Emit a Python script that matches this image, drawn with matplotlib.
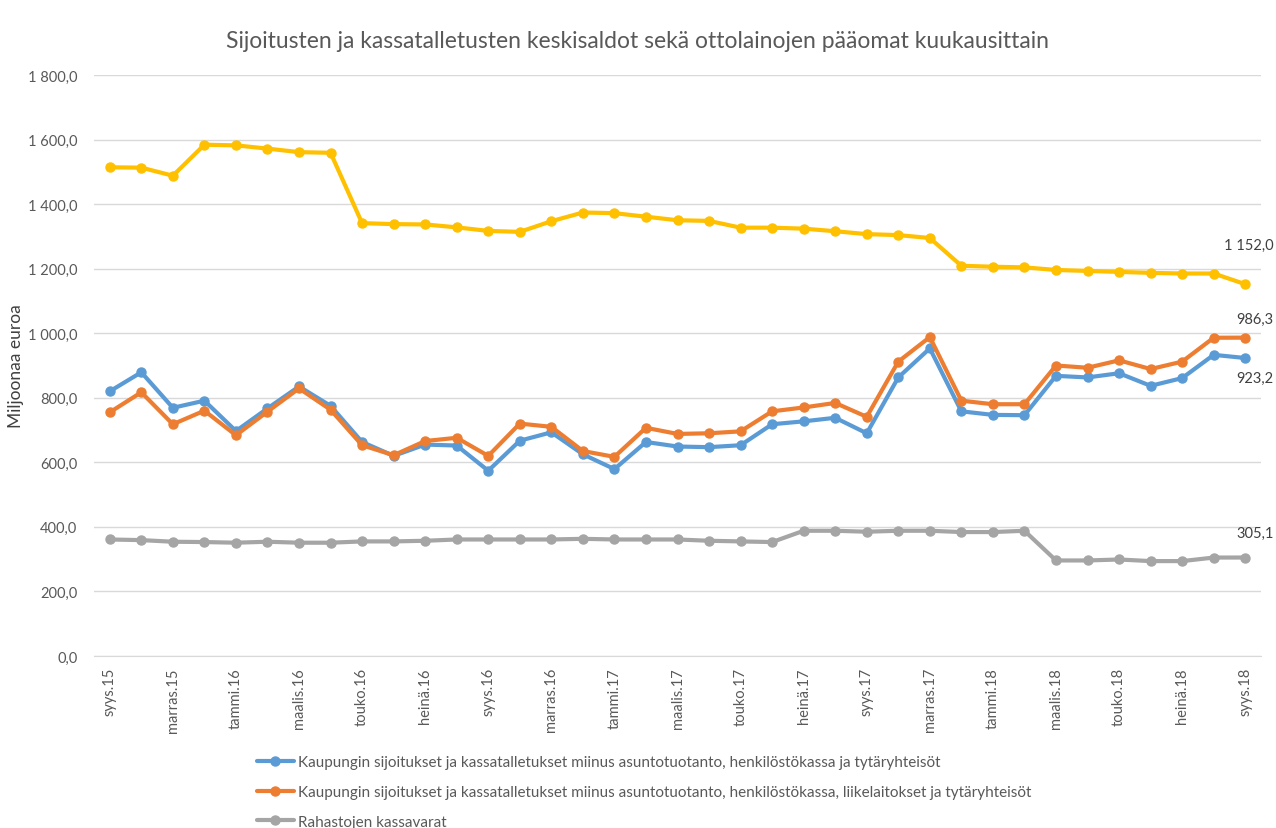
import matplotlib.pyplot as plt
from matplotlib.ticker import FuncFormatter

# Months syys.15 .. syys.18, tick label on every second month
tick_labels = ["syys.15", "marras.15", "tammi.16", "maalis.16", "touko.16", "heinä.16",
               "syys.16", "marras.16", "tammi.17", "maalis.17", "touko.17", "heinä.17",
               "syys.17", "marras.17", "tammi.18", "maalis.18", "touko.18", "heinä.18",
               "syys.18"]

ottolainat = [1514, 1513, 1488, 1584, 1582, 1572, 1561, 1559, 1341, 1338, 1337, 1328, 1317,
              1314, 1347, 1374, 1372, 1361, 1350, 1348, 1327, 1327, 1324, 1316, 1307, 1304,
              1295, 1209, 1206, 1204, 1196, 1193, 1190, 1187, 1185, 1185, 1152.0]
sijoitukset_a = [820, 879, 769, 791, 697, 767, 835, 775, 663, 620, 655, 652, 574,
                 667, 693, 625, 579, 663, 649, 647, 653, 718, 727, 738, 690, 863,
                 953, 758, 747, 746, 868, 863, 876, 837, 861, 933, 923.2]
sijoitukset_b = [755, 817, 718, 760, 684, 757, 829, 763, 653, 622, 666, 676, 620,
                 720, 710, 635, 617, 707, 688, 690, 696, 758, 770, 784, 741, 912,
                 988, 791, 780, 780, 900, 893, 916, 889, 912, 986, 986.3]
rahastot = [361, 359, 354, 353, 351, 354, 351, 351, 355, 355, 357, 361, 361,
            361, 361, 363, 361, 361, 361, 357, 355, 353, 388, 388, 385, 388,
            388, 384, 384, 388, 296, 296, 299, 294, 294, 305, 305.1]

names = ["Kaupungin sijoitukset ja kassatalletukset miinus asuntotuotanto, henkilöstökassa ja tytäryhteisöt",
         "Kaupungin sijoitukset ja kassatalletukset miinus asuntotuotanto, henkilöstökassa, liikelaitokset ja tytäryhteisöt",
         "Rahastojen kassavarat"]

plt.rcParams['font.family'] = ['Lato', 'DejaVu Sans']
txt = '#595959'

fig = plt.figure(figsize=(12.76, 8.29), dpi=100)
ax = fig.add_axes([94 / 1276, 1 - 657 / 829, (1261 - 94) / 1276, (657 - 76) / 829])

x = list(range(len(ottolainat)))
kw = dict(lw=3, marker='o', ms=6.5, solid_capstyle='round')
ax.plot(x, ottolainat, color='#FFC000', **kw)
h1, = ax.plot(x, sijoitukset_a, color='#5B9BD5', label=names[0], **kw)
h2, = ax.plot(x, sijoitukset_b, color='#ED7D31', label=names[1], **kw)
h3, = ax.plot(x, rahastot, color='#A5A5A5', label=names[2], **kw)

def fi(v, pos=None):
    return f"{v:,.1f}".replace(",", " ").replace(".", ",")

# data labels of the last month, right aligned near the figure edge
lab = dict(ha='right', va='center', fontsize=10.5, color='#404040')
lx = x[-1] + 0.9
ax.text(lx, ottolainat[-1] + 121, fi(ottolainat[-1]), **lab)
ax.text(lx, sijoitukset_b[-1] + 58, fi(sijoitukset_b[-1]), **lab)
ax.text(lx, sijoitukset_a[-1] - 62, fi(sijoitukset_a[-1]), **lab)
ax.text(lx, rahastot[-1] + 76, fi(rahastot[-1]), **lab)

ax.set_xlim(-0.5, len(x) - 0.5)
ax.set_ylim(0, 1800)
ax.set_yticks(range(0, 1801, 200))
ax.yaxis.set_major_formatter(FuncFormatter(fi))
ax.set_xticks(x[::2])
ax.set_xticklabels(tick_labels, rotation=90)
ax.tick_params(axis='both', length=0, colors=txt, labelsize=10.5)
ax.tick_params(axis='y', pad=12)
ax.tick_params(axis='x', pad=8)
ax.grid(axis='y', color='#D9D9D9', lw=1)
ax.set_axisbelow(True)
for s in ['top', 'right', 'left']:
    ax.spines[s].set_visible(False)
ax.spines['bottom'].set_color('#D9D9D9')

ax.set_ylabel("Miljoonaa euroa", fontsize=12.5, color='#404040')
ax.yaxis.set_label_coords(-70 / 1167, 0.5)
fig.text(0.5, 1 - 42 / 829, "Sijoitusten ja kassatalletusten keskisaldot sekä ottolainojen pääomat kuukausittain",
         ha='center', va='center', fontsize=16.5, color=txt)

fig.legend(handles=[h1, h2, h3], loc='upper left', bbox_to_anchor=(251 / 1276, 1 - 750 / 829),
           frameon=False, fontsize=11, labelcolor=txt, handlelength=2.4, labelspacing=1.03,
           handletextpad=0.25, borderaxespad=0)

fig.savefig("out.png", dpi=100)
